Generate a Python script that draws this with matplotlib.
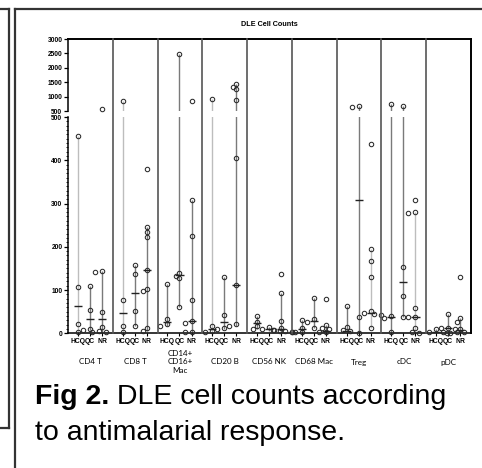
import numpy as np
import matplotlib.pyplot as plt
import matplotlib.transforms as mtransforms
from matplotlib.lines import Line2D

# Cell populations and response groups
cells = ["CD4 T", "CD8 T", "CD14+\nCD16+\nMac", "CD20 B", "CD56 NK",
         "CD68 Mac", "Treg", "cDC", "pDC"]
responses = ["HCQ", "QC", "NR"]

# cell counts per cell type
hcq_vals = [
    [455, 106, 22, 2],
    [840, 76, 18, 2],
    [113, 33, 22, 18],
    [927, 18, 6, 3],
    [40, 27, 17, 11],
    [31, 13, 3, 3],
    [63, 15, 8, 6],
    [743, 40, 35, 4],
    [9, 4, 4, 1],
]
qc_vals = [
    [110, 55, 11, 8],
    [157, 137, 51, 18],
    [2470, 140, 133, 127, 60],
    [130, 42, 12, 10],
    [15, 11, 8, 6],
    [82, 32, 27, 12],
    [673, 628, 38, 1],
    [684, 153, 86, 37],
    [45, 13, 12, 11],
]
nr_vals = [
    [144, 142, 49, 15, 6, 2, 2],
    [245, 234, 222, 146, 103, 97, 13, 6],
    [308, 224, 77, 28, 24, 3, 3],
    [1447, 1343, 1253, 894, 406, 112, 21, 17],
    [93, 28, 13, 8, 5, 3, 3],
    [19, 13, 11, 4, 3],
    [196, 167, 130, 52, 48, 45, 43, 13],
    [280, 278, 58, 37, 37, 12, 4, 1],
    [35, 27, 10, 4, 2, 1],
]
# points shown outside the range bars
hcq_out = [[], [], [], [], [], [], [], [], []]
qc_out = [[], [], [], [], [], [], [], [], []]
nr_out = [[580], [380], [847], [], [136], [79], [437], [308], [130]]

# median marks
hcq_med = [64, 48, 27, 10, 23, 9.5, 6, 38, 4]
qc_med = [33, 94, 135, 27, 10, 28, 308, 118, 13]
nr_med = [34, 146, 28, 112, 9, 6, 48, 37, 8]

# bars drawn in light grey (cell index, response index)
light_bars = {(0, 0), (1, 0), (3, 0), (6, 2), (7, 2)}

W, H = 482, 468
offsets = [0.22, 0.49, 0.76]
GW = 403 / 9.0  # px per group


def fx(px):
    return px / W


def fy(py):
    return 1 - py / H


def to_px(v):
    # vertical pixel height of a value on the broken axis
    if v <= 500:
        return v * 0.432
    return 216 + 6 + (v - 500) * 0.0288


def swarm(vals, center, step=0.078, diam=4.3):
    placed = []
    xs = []
    for v in vals:
        y = to_px(v)
        for k in [0, -1, 1, -2, 2, -3, 3]:
            x = center + k * step
            if all(np.hypot((x - px) * GW, y - py) >= diam for px, py in placed):
                break
        placed.append((x, y))
        xs.append(x)
    return xs


fig = plt.figure(figsize=(W / 100, H / 100), dpi=100)
ax_lo = fig.add_axes([fx(68), fy(333.3), fx(471) - fx(68), (333.3 - 117) / H])
ax_hi = fig.add_axes([fx(68), fy(111), fx(471) - fx(68), (111 - 39) / H])

for ax in (ax_lo, ax_hi):
    ax.set_xlim(0, 9)
    for s in ax.spines.values():
        s.set_linewidth(1.1)
        s.set_color("black")
    ax.spines["right"].set_visible(False)
ax_lo.set_ylim(0, 500)
ax_hi.set_ylim(500, 3000)
ax_lo.spines["top"].set_visible(False)
ax_hi.spines["bottom"].set_visible(False)
ax_hi.spines["top"].set_linewidth(1.4)

all_vals = [hcq_vals, qc_vals, nr_vals]
all_out = [hcq_out, qc_out, nr_out]
all_med = [hcq_med, qc_med, nr_med]

tick_pos = []
tick_lab = []
for g in range(len(cells)):
    for r in range(3):
        xc = g + offsets[r]
        tick_pos.append(xc)
        tick_lab.append(responses[r])
        vals = all_vals[r][g]
        col = "#bdbdbd" if (g, r) in light_bars else "#7a7a7a"
        lo, hi = min(vals), max(vals)
        ax_lo.vlines(xc, lo, hi, color=col, lw=1.0, zorder=1)
        if hi > 500:
            ax_hi.vlines(xc, 500, hi, color=col, lw=1.0, zorder=1)
        pts = sorted(vals + all_out[r][g], reverse=True)
        xs = swarm(pts, xc)
        for x, v in zip(xs, pts):
            ax = ax_lo if v <= 500 else ax_hi
            ax.plot(x, v, "o", ms=3.2, mfc="none", mec="#2b2b2b", mew=0.75,
                    clip_on=False, zorder=3)
        m = all_med[r][g]
        ax_lo.hlines(m, xc - 0.09, xc + 0.09, color="#222222", lw=1.0, zorder=4)

# y ticks
ax_lo.set_yticks([0, 100, 200, 300, 400, 500])
ax_lo.set_yticks(np.arange(0, 501, 10), minor=True)
ax_hi.set_yticks([500, 1000, 1500, 2000, 2500, 3000])
for ax in (ax_lo, ax_hi):
    ax.tick_params(axis="y", length=3, width=0.9, pad=1, labelsize=4.8)
    ax.tick_params(axis="y", which="minor", length=1.6, width=0.6)
    for lab in ax.get_yticklabels():
        lab.set_fontweight("bold")
        lab.set_family("Liberation Sans")
ax_hi.set_xticks([])
ax_lo.set_xticks(tick_pos)
ax_lo.set_xticklabels(tick_lab, fontsize=4.9, fontweight="bold",
                      family="Liberation Sans")
ax_lo.tick_params(axis="x", length=2, width=0.8, pad=1.5)

# group separators and right border
trans = mtransforms.blended_transform_factory(ax_lo.transData, fig.transFigure)
for g in range(1, 10):
    lw = 1.2 if g < 9 else 1.4
    c = "#555555" if g < 9 else "black"
    fig.add_artist(Line2D([g, g], [fy(38.5), fy(333.3)], transform=trans,
                          color=c, lw=lw))

# cell type labels
for g, name in enumerate(cells):
    fig.text(g + 0.5, fy(362), name, transform=trans, ha="center",
             va="center", fontsize=5.8, family="Lato", linespacing=1.2)

fig.text(fx(269.5), fy(25), "DLE Cell Counts", ha="center", va="center",
         fontsize=5.2, fontweight="bold", family="Liberation Sans")

# poster boxes
box = dict(color="#333333", lw=1.6, transform=fig.transFigure)
fig.add_artist(Line2D([0, fx(9)], [fy(9), fy(9)], **box))
fig.add_artist(Line2D([fx(9), fx(9)], [fy(9), fy(428)], **box))
fig.add_artist(Line2D([0, fx(9)], [fy(428), fy(428)], **box))
fig.add_artist(Line2D([fx(15.5), 1], [fy(9), fy(9)], **box))
fig.add_artist(Line2D([fx(15.5), fx(15.5)], [fy(9), 0], **box))

# caption
cap_size = 20.5
t1 = fig.text(fx(35), fy(404), "Fig 2.", fontsize=cap_size, fontweight="bold",
              family="Liberation Sans", va="baseline")
fig.canvas.draw()
bb = t1.get_window_extent()
fig.text(bb.x1 / fig.dpi / fig.get_figwidth(), fy(404),
         " DLE cell counts according", fontsize=cap_size,
         family="Liberation Sans", va="baseline")
fig.text(fx(35), fy(440), "to antimalarial response.", fontsize=cap_size,
         family="Liberation Sans", va="baseline")

fig.savefig("out.png", dpi=100)
